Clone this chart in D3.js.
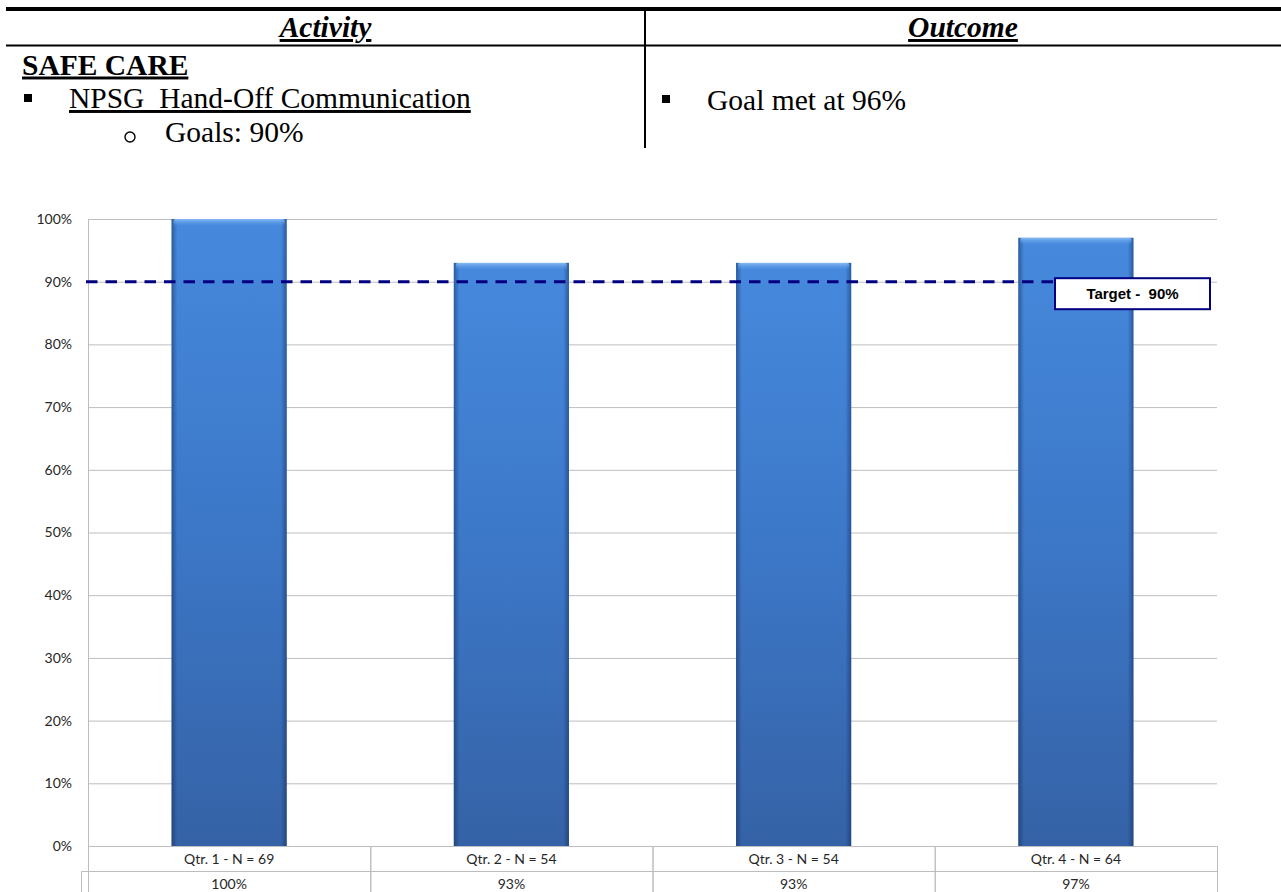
<!DOCTYPE html>
<html>
<head>
<meta charset="utf-8">
<script src="https://cdn.jsdelivr.net/npm/d3@7"></script>
<style>
  html, body { margin: 0; padding: 0; background: #fff; }
  svg { display: block; }
</style>
</head>
<body>
<svg id="chart" width="1281" height="892"></svg>
<script>
// ---- data ----
const quarters = ["Qtr. 1 - N = 69", "Qtr. 2 - N = 54", "Qtr. 3 - N = 54", "Qtr. 4 - N = 64"];
const compliance = [1.00, 0.93, 0.93, 0.97];
const targetValue = 0.90;
const yTicks = [0, 0.1, 0.2, 0.3, 0.4, 0.5, 0.6, 0.7, 0.8, 0.9, 1.0];
const targetLabel = "Target -  90%";
const activityItems = ["SAFE CARE", "NPSG  Hand-Off Communication", "Goals: 90%"];
const outcomeItems = ["Goal met at 96%"];

const svg = d3.select("#chart");
const pct = d3.format(".0%");

// ---- Activity / Outcome table ----
const serif = "'Liberation Serif','Times New Roman',serif";
const doc = svg.append("g").style("font-family", serif).style("font-size", "29.5px").attr("fill", "#000");

doc.append("rect").attr("x", 6).attr("y", 7).attr("width", 1275).attr("height", 4).attr("fill", "#000");
doc.append("rect").attr("x", 6).attr("y", 44.5).attr("width", 1275).attr("height", 2).attr("fill", "#000");
doc.append("rect").attr("x", 644).attr("y", 7).attr("width", 2).attr("height", 141).attr("fill", "#000");

doc.append("text").attr("x", 325.5).attr("y", 37).attr("text-anchor", "middle")
  .style("font-weight", "bold").style("font-style", "italic").style("text-decoration", "underline")
  .text("Activity");
doc.append("text").attr("x", 963).attr("y", 37).attr("text-anchor", "middle")
  .style("font-weight", "bold").style("font-style", "italic").style("text-decoration", "underline")
  .text("Outcome");

doc.append("text").attr("x", 22).attr("y", 74.5)
  .style("font-weight", "bold").style("text-decoration", "underline")
  .text(activityItems[0]);
doc.append("rect").attr("x", 24).attr("y", 94).attr("width", 8).attr("height", 8);
doc.append("text").attr("x", 69).attr("y", 108).style("white-space", "pre")
  .style("text-decoration", "underline").text(activityItems[1]);
doc.append("circle").attr("cx", 130).attr("cy", 137).attr("r", 5)
  .attr("fill", "none").attr("stroke", "#000").attr("stroke-width", 1.4);
doc.append("text").attr("x", 165).attr("y", 141.5).text(activityItems[2]);

doc.append("rect").attr("x", 662).attr("y", 95).attr("width", 8).attr("height", 8);
doc.append("text").attr("x", 707).attr("y", 109.5).text(outcomeItems[0]);

// ---- chart ----
const plotLeft = 88, plotRight = 1217, plotTop = 219, plotBottom = 846;
const x = d3.scaleBand().domain(quarters).range([plotLeft, plotRight]).paddingInner(0.592).paddingOuter(0.296);
const cell = d3.scaleBand().domain(quarters).range([plotLeft, plotRight]);
const y = d3.scaleLinear().domain([0, 1]).range([plotBottom, plotTop]);
const gridColor = "#bdbdbd";
const sans = "Lato, 'Open Sans', sans-serif";

const defs = svg.append("defs");
const vg = defs.append("linearGradient").attr("id", "barFill").attr("x1", 0).attr("y1", 0).attr("x2", 0).attr("y2", 1);
vg.append("stop").attr("offset", 0).attr("stop-color", "#4689dd");
vg.append("stop").attr("offset", 0.5).attr("stop-color", "#3c77c7");
vg.append("stop").attr("offset", 1).attr("stop-color", "#3562a6");
const hg = defs.append("linearGradient").attr("id", "barEdge").attr("x1", 0).attr("y1", 0).attr("x2", 1).attr("y2", 0);
hg.append("stop").attr("offset", 0).attr("stop-color", "#0b2350").attr("stop-opacity", 0.45);
hg.append("stop").attr("offset", 0.05).attr("stop-color", "#0b2350").attr("stop-opacity", 0.0);
hg.append("stop").attr("offset", 0.95).attr("stop-color", "#0b2350").attr("stop-opacity", 0.0);
hg.append("stop").attr("offset", 1).attr("stop-color", "#0b2350").attr("stop-opacity", 0.45);
const tg = defs.append("linearGradient").attr("id", "barTop").attr("x1", 0).attr("y1", 0).attr("x2", 0).attr("y2", 1);
tg.append("stop").attr("offset", 0).attr("stop-color", "#8cc0f5").attr("stop-opacity", 0.9);
tg.append("stop").attr("offset", 1).attr("stop-color", "#5e9de8").attr("stop-opacity", 0.0);

// y axis with gridlines
const yAxis = svg.append("g").attr("transform", `translate(${plotLeft},0)`)
  .call(d3.axisLeft(y).tickValues(yTicks).tickFormat(pct).tickSize(-(plotRight - plotLeft)).tickPadding(16));
yAxis.select(".domain").remove();
yAxis.selectAll(".tick line").attr("stroke", gridColor).attr("stroke-width", 1);
yAxis.selectAll(".tick text").attr("fill", "#262626").style("font-family", sans).style("font-size", "14px");

// bars
const bars = svg.append("g").selectAll("g").data(quarters).join("g");
bars.append("rect")
  .attr("x", d => x(d)).attr("width", x.bandwidth())
  .attr("y", (d, i) => y(compliance[i])).attr("height", (d, i) => y(0) - y(compliance[i]))
  .attr("fill", "url(#barFill)");
bars.append("rect")
  .attr("x", d => x(d)).attr("width", x.bandwidth())
  .attr("y", (d, i) => y(compliance[i])).attr("height", (d, i) => y(0) - y(compliance[i]))
  .attr("fill", "url(#barEdge)");
bars.append("rect")
  .attr("x", d => x(d) + 2).attr("width", x.bandwidth() - 4)
  .attr("y", (d, i) => y(compliance[i])).attr("height", 7).attr("rx", 2)
  .attr("fill", "url(#barTop)");

// left axis line runs down through the data table
svg.append("line").attr("x1", plotLeft + 0.5).attr("x2", plotLeft + 0.5).attr("y1", plotTop).attr("y2", 892)
  .attr("stroke", gridColor);

// data table under the plot
const rowTop = [plotBottom, 871], rowH = [25, 30];
const table = svg.append("g").style("font-family", sans).style("font-size", "14px").attr("fill", "#262626");
quarters.forEach((q, i) => {
  table.append("rect").attr("x", cell(q) + 0.5).attr("y", rowTop[0] + 0.5)
    .attr("width", cell.bandwidth()).attr("height", rowH[0])
    .attr("fill", "none").attr("stroke", gridColor);
  table.append("rect").attr("x", cell(q) + 0.5).attr("y", rowTop[1] + 0.5)
    .attr("width", cell.bandwidth()).attr("height", rowH[1])
    .attr("fill", "none").attr("stroke", gridColor);
  table.append("text").attr("x", cell(q) + cell.bandwidth() / 2).attr("y", 863.5)
    .attr("text-anchor", "middle").text(q);
  table.append("text").attr("x", cell(q) + cell.bandwidth() / 2).attr("y", 888.5)
    .attr("text-anchor", "middle").text(pct(compliance[i]));
});
// legend-key cell of the value row
table.append("path").attr("d", `M${plotLeft + 0.5},${rowTop[1] + 0.5}H81.5V892`)
  .attr("fill", "none").attr("stroke", gridColor);

// target line and label
const labelX = 1055, labelW = 155;
svg.append("line").attr("x1", 86).attr("x2", labelX).attr("y1", y(targetValue)).attr("y2", y(targetValue))
  .attr("stroke", "#000080").attr("stroke-width", 3).attr("stroke-dasharray", "11.5 8");
svg.append("rect").attr("x", labelX).attr("y", y(targetValue) - 3.5).attr("width", labelW).attr("height", 31)
  .attr("fill", "#fff").attr("stroke", "#000080").attr("stroke-width", 2);
svg.append("text").attr("x", labelX + labelW / 2).attr("y", y(targetValue) + 17.5)
  .attr("text-anchor", "middle").style("white-space", "pre")
  .style("font-family", "'Liberation Sans', Arial, sans-serif").style("font-weight", "bold").style("font-size", "15px")
  .attr("fill", "#000").text(targetLabel);
</script>
</body>
</html>
